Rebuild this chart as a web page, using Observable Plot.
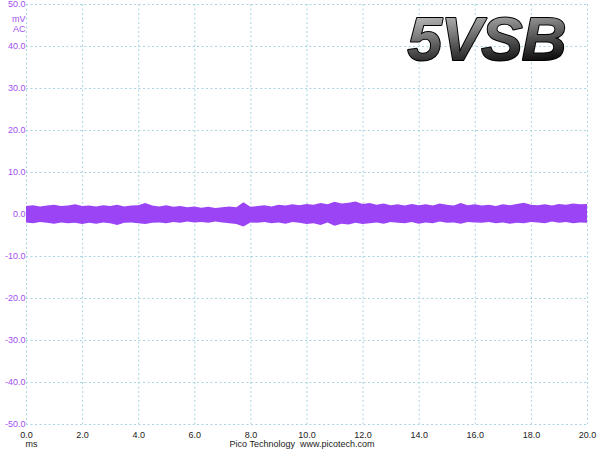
<!DOCTYPE html>
<html>
<head>
<meta charset="utf-8">
<script src="https://cdn.jsdelivr.net/npm/d3@7"></script>
<script src="https://cdn.jsdelivr.net/npm/@observablehq/plot@0.6"></script>
<style>
  html, body { margin: 0; padding: 0; background: #fff; }
  #chart svg { display: block; }
</style>
</head>
<body>
<div id="chart"></div>
<script>
// Time axis (ms), envelope of the 5VSB ripple (mV)
const timeMs = d3.range(0, 20.0001, 0.25);
const upperMv = [
  1.9,2.1,1.8,2.0,2.2,1.9,2.0,2.3,1.9,
  2.0,1.8,2.1,1.9,2.2,1.8,2.0,2.1,
  2.6,2.0,1.8,2.1,1.7,1.9,1.6,1.8,
  1.5,1.7,1.4,1.6,1.8,1.6,2.8,1.7,
  1.9,2.1,1.8,2.2,2.0,2.3,2.1,2.4,
  2.2,2.6,2.3,2.9,2.5,2.7,3.0,2.4,
  2.6,2.2,2.5,2.1,2.3,2.0,2.4,2.1,
  2.3,2.0,2.5,2.2,2.0,2.6,2.1,2.3,
  2.0,2.2,1.9,2.3,2.1,2.4,2.7,2.2,
  2.1,2.3,2.0,2.4,2.2,2.5,2.3,2.4
];
const lowerMv = [
  -2.0,-2.2,-1.9,-2.1,-2.3,-2.0,-2.2,-2.1,-2.4,
  -2.1,-2.3,-2.0,-2.2,-2.6,-2.1,-2.0,-2.2,
  -2.4,-2.1,-2.0,-2.2,-1.9,-2.1,-1.8,-2.0,
  -1.9,-2.1,-1.8,-2.0,-2.2,-2.4,-3.0,-2.0,
  -2.1,-1.9,-2.2,-2.0,-2.3,-1.9,-2.1,-2.4,
  -2.2,-2.6,-2.0,-2.8,-2.3,-2.5,-2.1,-2.4,
  -2.2,-2.0,-2.3,-1.9,-2.1,-2.2,-1.9,-2.3,
  -2.0,-2.2,-1.8,-2.1,-2.0,-2.3,-1.9,-2.0,
  -2.1,-1.9,-2.2,-2.0,-2.3,-2.1,-2.2,-1.9,
  -2.0,-2.2,-1.8,-2.1,-1.9,-2.2,-2.0,-2.1
];
const xTicks = [0,2,4,6,8,10,12,14,16,18,20];
const yTicks = [-50,-40,-30,-20,-10,0,10,20,30,40,50];
const titleText = "5VSB";
const footerText = "Pico Technology  www.picotech.com";

const data = timeMs.map((t, i) => ({t, hi: upperMv[i], lo: lowerMv[i]}));

const purple = "#9a44f6";
const labelPurple = "#a050f0";
const gridColor = "#a9d4e2";

const plot = Plot.plot({
  width: 600,
  height: 450,
  marginLeft: 26,
  marginRight: 13,
  marginTop: 4,
  marginBottom: 26,
  style: {fontFamily: "Liberation Sans, Arial, sans-serif", fontSize: "9px", background: "#fff"},
  x: {domain: [0, 20], label: null},
  y: {domain: [-50, 50], label: null},
  marks: [
    Plot.gridX(xTicks, {stroke: gridColor, strokeOpacity: 1, strokeDasharray: "2,2.5"}),
    Plot.gridY(yTicks, {stroke: gridColor, strokeOpacity: 1, strokeDasharray: "2,2.5"}),
    Plot.axisX(xTicks, {tickSize: 0, tickPadding: 7, tickFormat: d => d.toFixed(1), fill: "#222", label: null}),
    Plot.axisY(yTicks, {tickSize: 0, tickPadding: 1, tickFormat: d => d.toFixed(1), fill: labelPurple, label: null}),
    Plot.areaY(data, {x: "t", y1: "lo", y2: "hi", fill: purple, curve: "linear"}),
    Plot.text(["mV"], {frameAnchor: "top-left", textAnchor: "end", dx: -1, dy: 11, fill: labelPurple}),
    Plot.text(["AC"], {frameAnchor: "top-left", textAnchor: "end", dx: -1, dy: 21, fill: labelPurple}),
    Plot.text(["ms"], {frameAnchor: "bottom-left", textAnchor: "start", dx: -1, dy: 22, fill: "#222"}),
    Plot.text([footerText], {frameAnchor: "bottom", dx: -5, dy: 22, fill: "#222"}),
    Plot.text([titleText], {frameAnchor: "top-right", textAnchor: "end", lineAnchor: "middle", dx: -22, dy: 36,
      fontSize: 62, fontWeight: "bold", fontStyle: "italic", fill: "#555", stroke: "#000", strokeWidth: 2})
  ]
});

const svg = d3.select(plot);
const defs = svg.insert("defs", ":first-child");
const grad = defs.append("linearGradient").attr("id", "vsbgrad").attr("x1", 0).attr("y1", 0).attr("x2", 0.25).attr("y2", 1);
grad.append("stop").attr("offset", "0%").attr("stop-color", "#e0e0e0");
grad.append("stop").attr("offset", "40%").attr("stop-color", "#8a8a8a");
grad.append("stop").attr("offset", "75%").attr("stop-color", "#3a3a3a");
grad.append("stop").attr("offset", "100%").attr("stop-color", "#050505");
svg.selectAll("text")
  .filter(function() { return this.textContent === titleText; })
  .each(function() {
    this.setAttribute("fill", "url(#vsbgrad)");
    this.style.fill = "url(#vsbgrad)";
    this.setAttribute("letter-spacing", "-1");
    if (this.parentNode) this.parentNode.setAttribute("fill", "url(#vsbgrad)");
  });

document.getElementById("chart").appendChild(plot);
</script>
</body>
</html>
